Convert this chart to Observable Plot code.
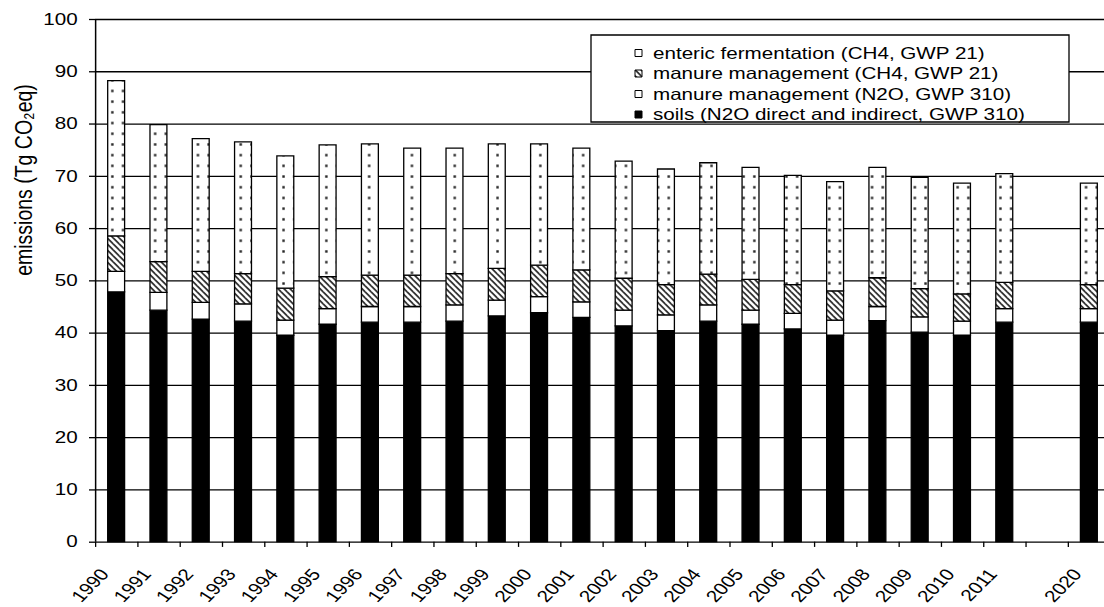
<!DOCTYPE html>
<html><head><meta charset="utf-8">
<script src="https://cdn.jsdelivr.net/npm/d3@7"></script>
<script src="https://cdn.jsdelivr.net/npm/@observablehq/plot@0.6"></script>
<style>
html,body{margin:0;padding:0;background:#fff;overflow:hidden;}
#chart svg g rect, #chart svg g line, #chart svg g path { vector-effect: non-scaling-stroke; }
</style></head><body><div id="chart"></div>
<script>
// ---- data (Tg CO2eq) ----
const years = ["1990","1991","1992","1993","1994","1995","1996","1997","1998","1999","2000","2001","2002","2003","2004","2005","2006","2007","2008","2009","2010","2011","2020"];
const gapKey = " ";
const soils     = [47.8,44.3,42.6,42.2,39.5,41.6,42.0,42.0,42.2,43.2,43.8,42.9,41.3,40.4,42.2,41.6,40.7,39.5,42.3,40.1,39.5,42.0,42.0];
const manureN2O = [3.9,3.4,3.2,3.3,2.9,3.0,3.0,3.0,3.1,3.0,3.1,3.0,3.0,3.0,3.1,2.7,3.0,2.9,2.7,2.9,2.7,2.6,2.6];
const manureCH4 = [6.8,5.9,5.9,5.8,6.1,6.1,6.0,6.0,6.0,6.1,6.0,6.1,6.1,5.8,5.9,5.9,5.5,5.6,5.5,5.4,5.2,5.0,4.6];
const enteric   = [29.7,26.2,25.4,25.2,25.3,25.2,25.1,24.3,24.0,23.8,23.2,23.3,22.4,22.1,21.3,21.4,20.9,20.9,21.1,21.3,21.2,20.8,19.4];
const seriesNames = [
  "soils (N2O direct and indirect, GWP 310)",
  "manure management (N2O, GWP 310)",
  "manure management (CH4, GWP 21)",
  "enteric fermentation (CH4, GWP 21)"
];
const seriesFills = ["#000", "#fff", "url(#hatch)", "url(#dots)"];
const yTicks = [0,10,20,30,40,50,60,70,80,90,100];
const yLabel = "emissions (Tg CO₂eq)";

// ---- layout ----
const S = 1.25;               // horizontal stretch of the reference
const W = 1104, H = 607;
const W0 = W / S;
const mLeft = 76, mRight = W0 - 888, mTop = 19, mBottom = H - 541.7;
const xDomain = [...years.slice(0, 22), gapKey, years[22]];
const step = (W0 - mLeft - mRight) / xDomain.length;
const barInset = 0.3 * step;
const FS = 16.5;

const seriesValues = [soils, manureN2O, manureCH4, enteric];
const rows = [];
years.forEach((yr, i) => {
  seriesNames.forEach((s, k) => rows.push({year: yr, series: s, value: seriesValues[k][i]}));
});

const plot = Plot.plot({
  width: W0, height: H,
  marginLeft: mLeft, marginRight: mRight, marginTop: mTop, marginBottom: mBottom,
  style: {fontFamily: "'Liberation Sans', Arial, sans-serif", fontSize: FS + "px", color: "#000", background: "#fff"},
  x: {domain: xDomain, padding: 0, round: false, axis: null},
  y: {domain: [0, 100]},
  color: {domain: seriesNames, range: seriesFills},
  marks: [
    Plot.ruleY(yTicks, {stroke: "#000", strokeWidth: 1.3}),
    Plot.barY(rows, Plot.stackY({x: "year", y: "value", fill: "series", order: null, stroke: "#000", strokeWidth: 1.3,
      insetLeft: barInset, insetRight: barInset})),
    Plot.ruleX([xDomain[0]], {stroke: "#000", strokeWidth: 1.5, dx: -step / 2}),
    Plot.ruleX(xDomain, {x: d => d, y1: 0, y2: -1, stroke: "#000", strokeWidth: 1.3, dx: -step / 2}),
    Plot.axisY({ticks: yTicks, tickSize: 6 / S, tickPadding: 12 / S, label: null, fontSize: FS, stroke: "#000", strokeWidth: 1.3}),
    Plot.text(years, {x: d => d, y: 0, text: d => d, rotate: -51.3, textAnchor: "end", dx: -12 / S, dy: 29, fontSize: FS, fill: "#000"}),
    Plot.text([yLabel], {frameAnchor: "left", rotate: -90, dx: 24 / S - mLeft, dy: -5, fontSize: 19.5, fill: "#000"})
  ]
});

plot.setAttribute("width", W);
plot.setAttribute("height", H);
plot.setAttribute("preserveAspectRatio", "none");
plot.style.width = W + "px";
plot.style.height = H + "px";
plot.style.maxWidth = "none";
document.getElementById("chart").appendChild(plot);

// ---- patterns ----
const svg = d3.select(plot);
const defs = svg.insert("defs", ":first-child");
const dw = 10.7 / S, dh = 10.7;
const pd = defs.append("pattern").attr("id", "dots").attr("patternUnits", "userSpaceOnUse")
  .attr("width", dw).attr("height", dh);
pd.append("rect").attr("width", dw).attr("height", dh).attr("fill", "#fff");
pd.append("rect").attr("x", dw / 2 - 1.2 / S).attr("y", dh / 2 - 1.2).attr("width", 2.4 / S).attr("height", 2.4).attr("fill", "#222");

const hw = 6 / S, hh = 6, ht = 2.6 / S;
const ph = defs.append("pattern").attr("id", "hatch").attr("patternUnits", "userSpaceOnUse")
  .attr("width", hw).attr("height", hh);
ph.append("rect").attr("width", hw).attr("height", hh).attr("fill", "#fff");
[-1, 0, 1].forEach(k => {
  const x0 = k * hw;
  ph.append("polygon").attr("fill", "#333")
    .attr("points", `${x0},0 ${x0 + ht},0 ${x0 + ht + hw},${hh} ${x0 + hw},${hh}`);
});

// ---- legend ----
const lg = svg.append("g").attr("text-anchor", "start");
const bx0 = 591 / S, bx1 = 1069 / S, by0 = 35, by1 = 122;
lg.append("rect").attr("x", bx0).attr("y", by0).attr("width", bx1 - bx0).attr("height", by1 - by0)
  .attr("fill", "#fff").attr("stroke", "#000").attr("stroke-width", 1.3);
const order = [3, 2, 1, 0];
const rowY = [53, 73.5, 94, 114.5];
order.forEach((k, r) => {
  lg.append("rect").attr("x", 635 / S).attr("y", rowY[r] - 3.5).attr("width", 7 / S).attr("height", 7)
    .attr("fill", seriesFills[k]).attr("stroke", "#000").attr("stroke-width", 1);
  lg.append("text").attr("x", 653 / S).attr("y", rowY[r]).attr("dy", "0.35em")
    .attr("text-anchor", "start").attr("font-size", FS).attr("fill", "#000").text(seriesNames[k]);
});
</script></body></html>
